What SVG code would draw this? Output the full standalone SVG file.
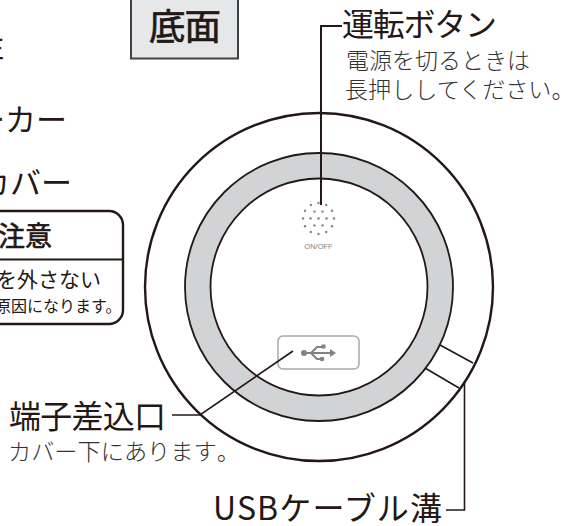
<svg xmlns="http://www.w3.org/2000/svg" width="565" height="526" viewBox="0 0 565 526">
<style>
text{font-family:"Noto Sans CJK JP","Noto Sans",sans-serif;fill:#231815}
.h{font-size:32px}
.s{font-size:23px;font-weight:300;fill:#333}
.m{stroke:#231815;stroke-width:.7px}
.l{fill:none;stroke:#231815;stroke-width:1.6}
.d{fill:#808285}
.e{font-feature-settings:"halt"}
</style>
<rect width="565" height="526" fill="#fff"/>
<g id="base">
<circle cx="319" cy="287" r="174" fill="#fff" stroke="#231815" stroke-width="2.4"/>
<circle cx="319" cy="287" r="121.2" fill="none" stroke="#d1d3d4" stroke-width="25.5"/>
<circle cx="319" cy="287" r="134" fill="none" stroke="#231815" stroke-width="1.8"/>
<circle cx="319" cy="287" r="108.5" fill="none" stroke="#231815" stroke-width="1.8"/>
</g>
<g id="groove">
<path class="l" d="M440 345L473 363M425 368L459 388"/>
</g>
<g id="on-off">
<g class="d" id="dots">
<circle cx="318.500" cy="218.500" r="1.200"/>
<circle cx="326.500" cy="218.500" r="1.200"/><circle cx="322.500" cy="225.400" r="1.200"/><circle cx="314.500" cy="225.400" r="1.200"/><circle cx="310.500" cy="218.500" r="1.200"/><circle cx="314.500" cy="211.600" r="1.200"/><circle cx="322.500" cy="211.600" r="1.200"/>
<circle cx="334" cy="218.500" r="1.200"/><circle cx="332" cy="226.200" r="1.200"/><circle cx="326.200" cy="232" r="1.200"/><circle cx="318.500" cy="234" r="1.200"/><circle cx="310.800" cy="232" r="1.200"/><circle cx="305" cy="226.200" r="1.200"/><circle cx="303" cy="218.500" r="1.200"/><circle cx="305" cy="210.800" r="1.200"/><circle cx="310.800" cy="205" r="1.200"/><circle cx="318.500" cy="203" r="1.200"/><circle cx="326.200" cy="205" r="1.200"/><circle cx="332" cy="210.800" r="1.200"/>
</g>
<text x="318.500" y="249" font-size="7.500" text-anchor="middle" style="font-family:'Liberation Sans',sans-serif;fill:#808285">ON/OFF</text>
</g>
<g id="usb-port">
<rect x="278" y="336" width="81" height="33" rx="5" fill="#fff" stroke="#a7a9ac" stroke-width="1.5"/>
<g fill="none" stroke="#808285" stroke-width="2">
<path d="M304 353H332M311 353L317 347H322M311 353L317 359H321"/>
</g>
<g class="d">
<circle cx="304" cy="353" r="3"/>
<path d="M330 349L336 353L330 357Z"/>
<rect x="321.500" y="344.500" width="4" height="4"/>
<circle cx="322" cy="359" r="2.300"/>
</g>
</g>
<g id="connectors">
<path class="l" style="stroke-width:2" d="M321 205V26H342"/>
<path class="l" d="M172 415H200L293 351"/>
<path class="l" d="M464.500 381V510H446"/>
</g>
<g id="label-bottom">
<rect x="131" y="-4" width="107" height="62.500" fill="#e6e7e8" stroke="#414042" stroke-width="2"/>
<text x="149" y="40" font-size="36.500" class="m" textLength="72">底面</text>
</g>
<g id="label-top-left">
<text x="4" y="57" font-size="30" text-anchor="end">注</text>
<text x="67" y="131" font-size="31" text-anchor="end">ーカー</text>
<text x="72" y="194" font-size="31" text-anchor="end">カバー</text>
</g>
<g id="caution">
<path d="M-10 211H109A14 14 0 0 1 123 225V310A14 14 0 0 1 109 324H-10" fill="#fff" stroke="#231815" stroke-width="2.400"/>
<path d="M-10 259.500H123" stroke="#231815" stroke-width="1.800"/>
<text x="52" y="246" font-size="27" class="m" text-anchor="end">注意</text>
<text x="101" y="287" font-size="21" text-anchor="end">を外さない</text>
<text x="121.500" y="312" font-size="16" text-anchor="end">原因になります。</text>
</g>
<g id="label-power">
<text x="342" y="36" class="h" textLength="155">運転ボタン</text>
<text x="346" y="69" class="s" textLength="184">電源を切るときは</text>
<text x="345" y="98" class="s" style="font-size:23.1px">長押ししてください<tspan class="e">。</tspan></text>
</g>
<g id="label-port">
<text x="9" y="428" class="h" textLength="157">端子差込口</text>
<text x="8" y="460" class="s" style="font-size:23.200px">カバー下にあります<tspan class="e">。</tspan></text>
</g>
<g id="label-groove">
<text x="213" y="520" class="h" textLength="229">USBケーブル溝</text>
</g>
</svg>
